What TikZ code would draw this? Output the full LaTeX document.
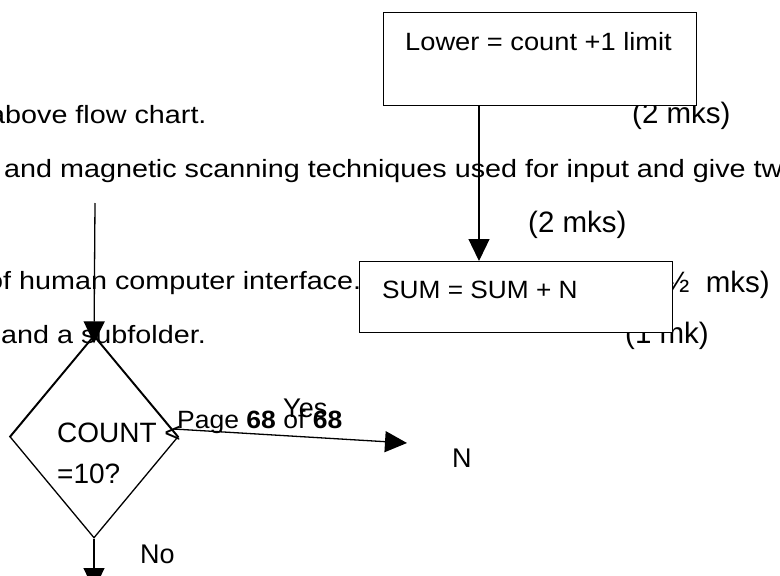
\documentclass[tikz,border=0pt]{standalone}
\usepackage{fontspec}
\setmainfont{Liberation Sans}
\newfontfamily\bodyfont[FakeStretch=1.15]{Liberation Sans}
\newfontfamily\lowerfont[FakeStretch=1.09]{Liberation Sans}
\newfontfamily\sumfont[FakeStretch=1.05]{Liberation Sans}
\newfontfamily\pagefont[FakeStretch=1.06]{Liberation Sans}
\usetikzlibrary{arrows.meta,shapes.geometric,calc}
\tikzset{
  txt/.style={anchor=base west,inner sep=0pt,font=\bodyfont\fontsize{25}{30}\selectfont},
  mks/.style={anchor=base west,inner sep=0pt,font=\fontsize{29.5}{34}\selectfont},
  lbl/.style={anchor=base west,inner sep=0pt,font=\fontsize{27}{32}\selectfont},
  boxnode/.style={draw,fill=white,line width=1.3pt,anchor=north west,inner sep=0pt},
  ln/.style={line width=1.3pt},
  arr/.style={line width=1.3pt,-{Triangle[width=21pt,length=22pt]}},
}
\begin{document}
\begin{tikzpicture}[x=1pt,y=-1pt]
\useasboundingbox (0,0) rectangle (780,576);
\clip (0,0) rectangle (780,576);
% background text
\node[txt] (t1) at (-11,123) {above flow chart.};
\node[mks] (t1r) at (632,123) {(2 mks)};
\node[txt] (t2) at (4,177) {and magnetic scanning techniques used for input and give two};
\node[mks] (t3) at (528,232) {(2 mks)};
\node[txt] (t4) at (-13,289) {of human computer interface.};
\node[mks,anchor=base east] (t4r) at (770,292) {(1½\ \ mks)};
\node[txt] (t5) at (1,343) {and a subfolder.};
\node[mks] (t5r) at (625,343) {(1 mk)};
% boxes
\node[boxnode,minimum width=313pt,minimum height=93pt] (lower) at (383,12) {};
\node[lbl,font=\lowerfont\fontsize{25}{30}\selectfont] (lowertxt) at ([xshift=22pt,yshift=-38pt]lower.north west) {Lower = count +1 limit};
\node[boxnode,minimum width=313pt,minimum height=71pt] (sum) at (359,261) {};
\node[lbl,font=\sumfont\fontsize{25}{30}\selectfont] (sumtxt) at ([xshift=23pt,yshift=-37pt]sum.north west) {SUM = SUM + N};
\draw[arr] ([xshift=96pt]lower.south west) -- ([xshift=120pt]sum.north west);
% decision
\node[draw,ln,diamond,inner sep=0pt,minimum width=168pt,minimum height=202pt] (dec) at (94,437) {};
\draw[ln] (dec.west) -- ($(dec.west)!1.07!(dec.north)$);
\draw[ln] (dec.east) -- ($(dec.east)!1.07!(dec.north)$);
\node[lbl,font=\fontsize{28}{32}\selectfont] (dtxt1) at (57,442) {COUNT <};
\node[lbl,font=\fontsize{28}{32}\selectfont] (dtxt2) at (57,483) {=10?};
\coordinate (topin) at (95,203);
\draw[arr] (topin) -- ([yshift=-8pt]dec.north);
\coordinate (yesend) at (407,443);
\draw[arr] ([xshift=-5pt,yshift=8pt]dec.east) -- (yesend);
\coordinate (noend) at (94,590);
\draw[arr] (dec.south) -- (noend);
\node[lbl] (yes) at (283,417) {Yes};
\node[lbl,font=\pagefont\fontsize{25}{30}\selectfont] (page) at (177,428) {Page \textbf{68} of \textbf{68}};
\node[lbl] (n) at (452,467) {N};
\node[lbl] (no) at (140,563) {No};
\end{tikzpicture}
\end{document}
